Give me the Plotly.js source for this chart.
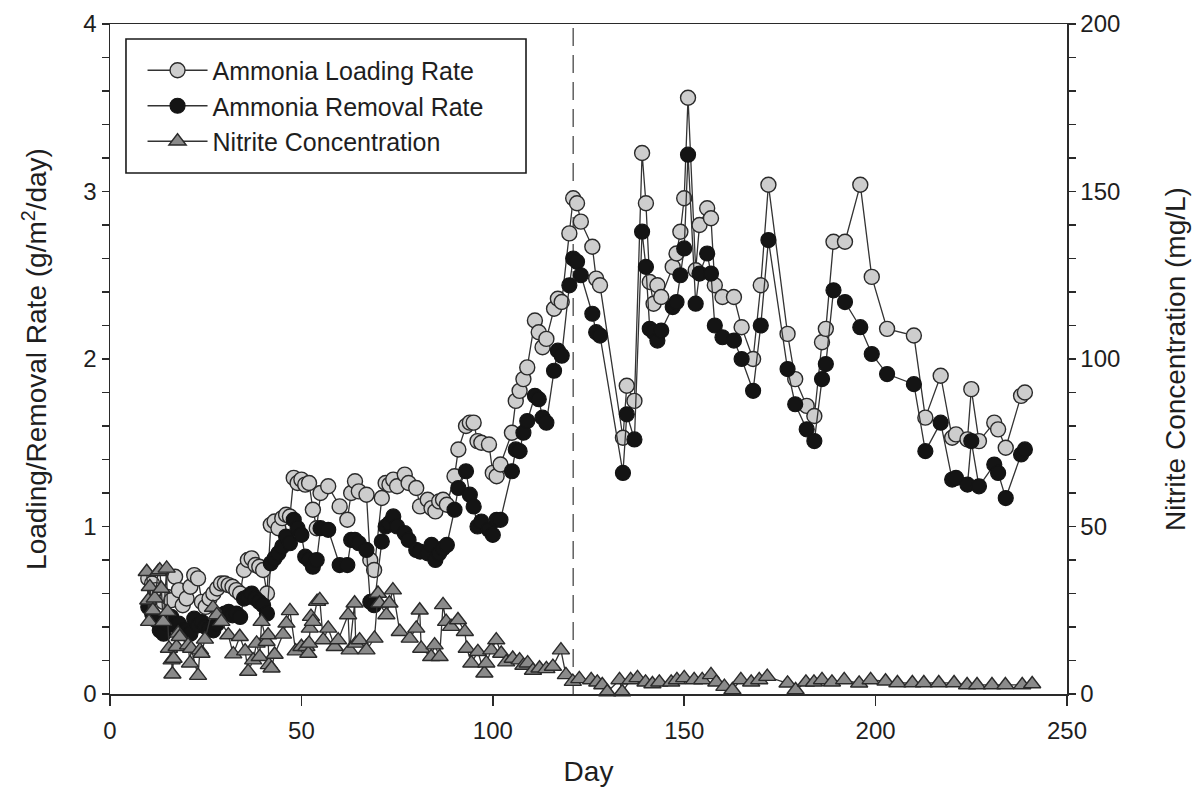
<!DOCTYPE html>
<html><head><meta charset="utf-8">
<script src="https://cdn.plot.ly/plotly-3.0.1.min.js"></script>
<style>html,body{margin:0;padding:0;background:#fff}#chart{width:1201px;height:805px}</style>
</head><body><div id="chart"></div>
<script>
// ---- data ----
const ammoniaDays = [10,11,12,13,14,15,16,17,18,19,20,21,22,23,24,25,26,27,28,29,30,31,32,33,34,35,36,37,38,39,40,41,42,43,44,45,46,47,48,49,50,51,52,53,54,55,57,60,62,63,64,65,67,68,69,71,72,73,74,75,77,78,80,81,83,84,85,86,87,88,90,91,93,94,95,96,97,99,100,101,102,105,106,107,108,109,111,112,113,114,116,117,118,120,121,122,123,126,127,128,134,135,137,139,140,141,142,143,144,147,148,149,150,151,153,154,156,157,158,160,163,165,168,170,172,177,179,182,184,186,187,189,192,196,199,203,210,213,217,220,221,224,225,227,231,232,234,238,239];
const loadingRate = [0.69,0.66,0.62,0.59,0.55,0.58,0.56,0.70,0.62,0.53,0.57,0.64,0.71,0.69,0.55,0.52,0.57,0.60,0.63,0.66,0.66,0.65,0.64,0.62,0.60,0.74,0.80,0.81,0.77,0.76,0.74,0.60,1.01,1.03,0.99,1.05,1.07,1.06,1.29,1.26,1.28,1.25,1.26,1.10,0.99,1.20,1.24,1.12,1.04,1.20,1.27,1.21,1.19,0.80,0.74,1.17,1.26,1.25,1.28,1.24,1.31,1.26,1.23,1.12,1.16,1.11,1.09,1.15,1.16,1.13,1.30,1.46,1.60,1.62,1.62,1.51,1.50,1.49,1.32,1.30,1.37,1.56,1.75,1.81,1.88,1.95,2.23,2.16,2.07,2.12,2.30,2.36,2.34,2.75,2.96,2.93,2.82,2.67,2.48,2.44,1.53,1.84,1.75,3.23,2.93,2.46,2.33,2.44,2.37,2.55,2.63,2.76,2.96,3.56,2.53,2.80,2.90,2.84,2.44,2.37,2.37,2.19,2.00,2.44,3.04,2.15,1.88,1.72,1.66,2.10,2.18,2.70,2.70,3.04,2.49,2.18,2.14,1.65,1.90,1.53,1.55,1.52,1.82,1.51,1.62,1.58,1.47,1.78,1.80];
const removalRate = [0.52,0.48,0.44,0.38,0.36,0.42,0.46,0.41,0.42,0.38,0.38,0.36,0.45,0.41,0.43,0.40,0.39,0.38,0.42,0.47,0.48,0.49,0.47,0.48,0.46,0.57,0.58,0.60,0.57,0.55,0.53,0.48,0.78,0.81,0.84,0.88,0.94,0.90,1.04,0.99,0.95,0.82,0.80,0.76,0.80,0.99,0.98,0.77,0.77,0.92,0.92,0.90,0.86,0.55,0.53,0.91,1.00,1.02,1.06,1.00,0.96,0.92,0.86,0.85,0.84,0.89,0.80,0.84,0.87,0.89,1.10,1.23,1.33,1.19,1.12,1.00,1.03,0.98,0.95,1.04,1.04,1.33,1.46,1.45,1.56,1.63,1.78,1.76,1.65,1.62,1.93,2.05,2.02,2.44,2.60,2.58,2.50,2.27,2.16,2.14,1.32,1.67,1.52,2.76,2.55,2.18,2.16,2.11,2.17,2.31,2.34,2.50,2.66,3.22,2.33,2.51,2.63,2.51,2.20,2.13,2.11,2.00,1.81,2.20,2.71,1.94,1.73,1.58,1.51,1.88,1.97,2.41,2.34,2.19,2.03,1.91,1.85,1.45,1.62,1.28,1.29,1.25,1.51,1.24,1.37,1.32,1.17,1.43,1.46];
const nitriteDays = [9.6,10.0,10.2,10.4,11.2,11.7,12.6,13.0,13.4,13.9,14.8,15.0,15.4,16.1,16.3,16.6,17.4,17.8,18.2,20.4,20.9,21.2,23.0,23.5,23.9,24.8,26.9,27.9,29.1,30.9,32.2,33.9,35.3,36.1,37.4,38.3,39.1,39.6,40.9,41.3,41.5,42.2,43.0,45.2,46.1,47.0,48.5,50.0,51.3,51.8,52.0,52.2,52.5,53.0,54.1,54.8,55.7,57.0,58.7,59.6,62.2,62.6,63.9,64.2,65.2,67.0,69.1,70.0,70.4,72.2,73.0,73.9,75.7,78.3,80.0,80.9,81.3,83.9,84.8,86.1,87.0,87.8,89.1,90.9,92.7,93.2,94.4,96.1,97.8,98.3,99.6,100.9,102.2,103.5,105.2,107.0,108.0,109.1,110.5,112.2,114.0,115.7,117.8,119.1,120.9,122.6,125.7,127.3,128.6,129.9,133.1,133.8,136.0,137.8,139.9,141.7,143.5,146.6,148.1,150.0,152.6,154.7,157.0,158.4,160.5,162.6,164.8,167.5,169.6,171.7,177.0,179.1,181.8,183.9,186.0,188.6,191.8,195.7,198.7,202.6,205.7,209.6,212.6,216.5,220.5,223.9,226.5,230.4,233.9,238.3,240.9];
const nitriteConc = [36.5,28,21.6,32,25,28.6,36.5,37,31.5,21.6,37.5,24.6,13.6,10.1,5.9,10.6,14.1,18.1,17.1,14.6,9.2,13.6,5.5,13.1,12.1,16.3,25.8,23.6,21.6,17.6,11.9,17.1,12.8,6.7,10.1,15.1,11.1,21.6,15.6,17.6,8.7,7.7,11.8,17.8,21.1,24.8,12.8,14.1,14.1,12.1,15.1,19.6,23.1,21.6,27.6,28.1,16.1,19.6,14.1,16.1,23.6,13.1,27.1,15.1,16.1,13.1,16.6,30.0,27.1,23.6,27.1,31.0,18.6,16.6,19.6,25.0,13.6,11.1,14.6,11.1,26.6,21.6,20.1,22.1,18.6,13.6,9.2,12.6,6.2,9.2,13.1,16.1,12.1,9.5,10.6,10.1,8.5,9.2,7.0,7.7,7.5,8.2,13.1,5.7,3.7,4.5,4.2,3.5,2.7,0.6,4.2,0.6,4.2,4.8,3.5,3.0,3.5,3.5,4.2,4.8,4.2,4.2,5.7,3.5,2.2,1.2,4.2,3.5,4.2,5.2,3.2,1.2,3.5,3.5,4.2,3.5,4.2,3.2,4.2,3.8,3.3,3.3,3.3,3.3,3.3,2.7,2.7,2.7,2.7,2.7,3.0];
const phaseChangeDay = 121;
const seriesNames = ['Ammonia Loading Rate','Ammonia Removal Rate','Nitrite Concentration'];

// ---- styling ----
const FONT = 'Liberation Sans, Arial, Helvetica, sans-serif';
const AX = '#2a2a2a';
const LINE = {color:'#333333', width:1.3};

const traces = [
  {x:ammoniaDays, y:loadingRate, name:seriesNames[0], type:'scatter', mode:'lines+markers',
   line:LINE, cliponaxis:false,
   marker:{symbol:'circle', size:15, color:'#cdcdcd', line:{color:'#2a2a2a', width:1.4}}},
  {x:ammoniaDays, y:removalRate, name:seriesNames[1], type:'scatter', mode:'lines+markers',
   line:LINE, cliponaxis:false,
   marker:{symbol:'circle', size:15, color:'#141414', line:{color:'#141414', width:1.2}}},
  {x:nitriteDays, y:nitriteConc, name:seriesNames[2], type:'scatter', mode:'lines+markers', yaxis:'y2',
   line:LINE, cliponaxis:false,
   marker:{symbol:'triangle-up', size:15, color:'#8a8a8a', line:{color:'#2a2a2a', width:1.4}}}
];

const axisCommon = {showline:true, linecolor:AX, linewidth:1.5, showgrid:false, zeroline:false,
  ticks:'outside', tickcolor:AX, tickwidth:1.5, tickfont:{size:24, color:'#1e1e1e'}};

const layout = {
  width:1201, height:805,
  margin:{l:110, r:134, t:24, b:111, pad:0},
  paper_bgcolor:'#ffffff', plot_bgcolor:'#ffffff',
  font:{family:FONT, size:24, color:'#1e1e1e'},
  showlegend:true,
  legend:{x:0.034, y:0.8776, xanchor:'left', yanchor:'middle', bgcolor:'rgba(0,0,0,0)',
          borderwidth:0, font:{size:25, color:'#1e1e1e'}, itemwidth:60, tracegroupgap:0},
  xaxis:Object.assign({}, axisCommon, {range:[0,250], tick0:0, dtick:50, ticklen:10, mirror:true,
          ticklabelstandoff:5,
          title:{text:'Day', font:{size:28}, standoff:18}}),
  yaxis:Object.assign({}, axisCommon, {range:[0,4], tick0:0, dtick:1, ticklen:7,
          minor:{dtick:0.2, ticks:'outside', ticklen:7, tickcolor:AX, tickwidth:1.5, showgrid:false},
          title:{text:'Loading/Removal Rate (g/m<sup>2</sup>/day)', font:{size:28}, standoff:28}}),
  yaxis2:Object.assign({}, axisCommon, {overlaying:'y', side:'right', range:[0,200], tick0:0, dtick:50, ticklen:7,
          minor:{dtick:10, ticks:'outside', ticklen:7, tickcolor:AX, tickwidth:1.5, showgrid:false},
          title:{text:'Nitrite Concentration (mg/L)', font:{size:28}, standoff:46}}),
  shapes:[
    {type:'line', xref:'x', yref:'paper', x0:phaseChangeDay, x1:phaseChangeDay, y0:0, y1:1,
     line:{color:'#555555', width:1.4, dash:'18px,9px'}, layer:'below'},
    {type:'rect', xref:'paper', yref:'paper', x0:0.0167, x1:0.4347, y0:0.7776, y1:0.9776,
     line:{color:'#1a1a1a', width:1.6}, fillcolor:'rgba(0,0,0,0)'}
  ]
};

Plotly.newPlot('chart', traces, layout, {displayModeBar:false, staticPlot:true});
</script></body></html>
